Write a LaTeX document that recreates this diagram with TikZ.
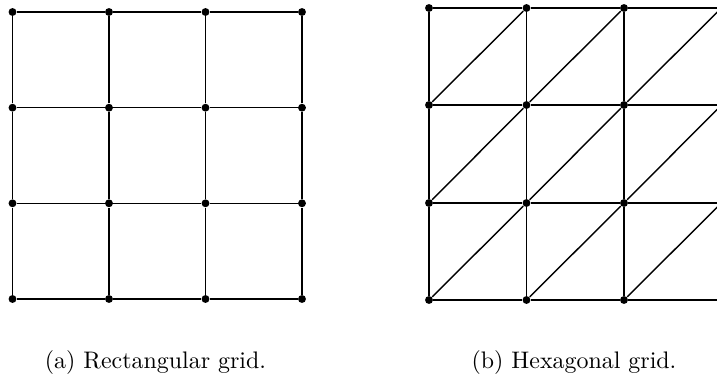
\documentclass[tikz,border=0pt]{standalone}
\begin{document}
\begin{tikzpicture}[x=0.418pt,y=-0.418pt,
  dot/.style={circle,fill=black,inner sep=0pt,minimum size=3.3pt},
  edge/.style={line width=0.6pt,draw=black},
  captext/.style={anchor=base,inner sep=0pt,font=\normalsize}]
\useasboundingbox (0,0) rectangle (717,379);
\clip (0,0) rectangle (717,379);
% left: rectangular grid
\foreach \i/\x in {0/12.5,1/109,2/205.5,3/302}
  \foreach \j/\y in {0/299,1/203.3,2/107.7,3/12}
    \node[dot] (a\i\j) at (\x,\y) {};
\foreach \i in {0,1,2,3}
  \foreach \j in {0,1,2}{
    \pgfmathtruncatemacro{\k}{\j+1}
    \draw[edge] (a\i\j) -- (a\i\k);
    \draw[edge] (a\j\i) -- (a\k\i);
  }
% right: hexagonal grid
\foreach \i/\x in {0/429,1/526.5,2/624,3/721.5}
  \foreach \j/\y in {0/300,1/203,2/105,3/8}
    \node[dot] (b\i\j) at (\x,\y) {};
\foreach \i in {0,1,2,3}
  \foreach \j in {0,1,2}{
    \pgfmathtruncatemacro{\k}{\j+1}
    \draw[edge] (b\i\j) -- (b\i\k);
    \draw[edge] (b\j\i) -- (b\k\i);
  }
\foreach \i in {0,1,2}
  \foreach \j in {0,1,2}{
    \pgfmathtruncatemacro{\p}{\i+1}
    \pgfmathtruncatemacro{\q}{\j+1}
    \draw[edge] (b\i\j) -- (b\p\q);
  }
% captions
\node[captext] (capa) at (155.5,369) {(a) Rectangular grid.};
\node[captext] (capb) at (574,369) {(b) Hexagonal grid.};
\end{tikzpicture}
\end{document}
